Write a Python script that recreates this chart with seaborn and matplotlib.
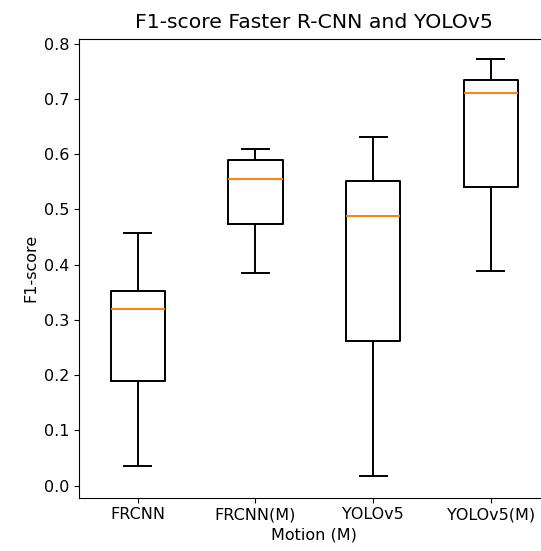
import matplotlib
matplotlib.use("Agg")
import matplotlib.pyplot as plt
import seaborn as sns
import pandas as pd

categories = ["FRCNN", "FRCNN(M)", "YOLOv5", "YOLOv5(M)"]
frcnn = [0.036, 0.189, 0.320, 0.353, 0.458]
frcnn_m = [0.385, 0.474, 0.555, 0.589, 0.610]
yolov5 = [0.018, 0.262, 0.488, 0.552, 0.631]
yolov5_m = [0.388, 0.541, 0.711, 0.735, 0.772]

series = [frcnn, frcnn_m, yolov5, yolov5_m]
rows = []
for cat, vals in zip(categories, series):
    for v in vals:
        rows.append({"Model": cat, "F1": v})
df = pd.DataFrame(rows)

plt.rcParams["font.family"] = ["DejaVu Sans"]
fig = plt.figure(figsize=(5.41, 5.51), dpi=100)
ax = fig.add_axes([0.146, 0.097, 0.870, 0.832])

sns.boxplot(data=df, x="Model", y="F1", order=categories, width=0.46,
            fill=False, color="black", linecolor="black", linewidth=1.4,
            whis=1.5, ax=ax,
            medianprops={"color": "#ff7f0e", "linewidth": 1.4})

ax.set_xlim(-0.5, 3.5)
ax.set_ylim(-0.0217, 0.8085)
ax.set_yticks([0.0, 0.1, 0.2, 0.3, 0.4, 0.5, 0.6, 0.7, 0.8])
ax.spines["right"].set_visible(False)
ax.set_title("F1-score Faster R-CNN and YOLOv5", fontsize=14.7, pad=8)
ax.set_xlabel("Motion (M)", fontsize=11.5)
ax.set_ylabel("F1-score", fontsize=11.5)
ax.tick_params(labelsize=11.5)

fig.savefig("out.png", dpi=100)
